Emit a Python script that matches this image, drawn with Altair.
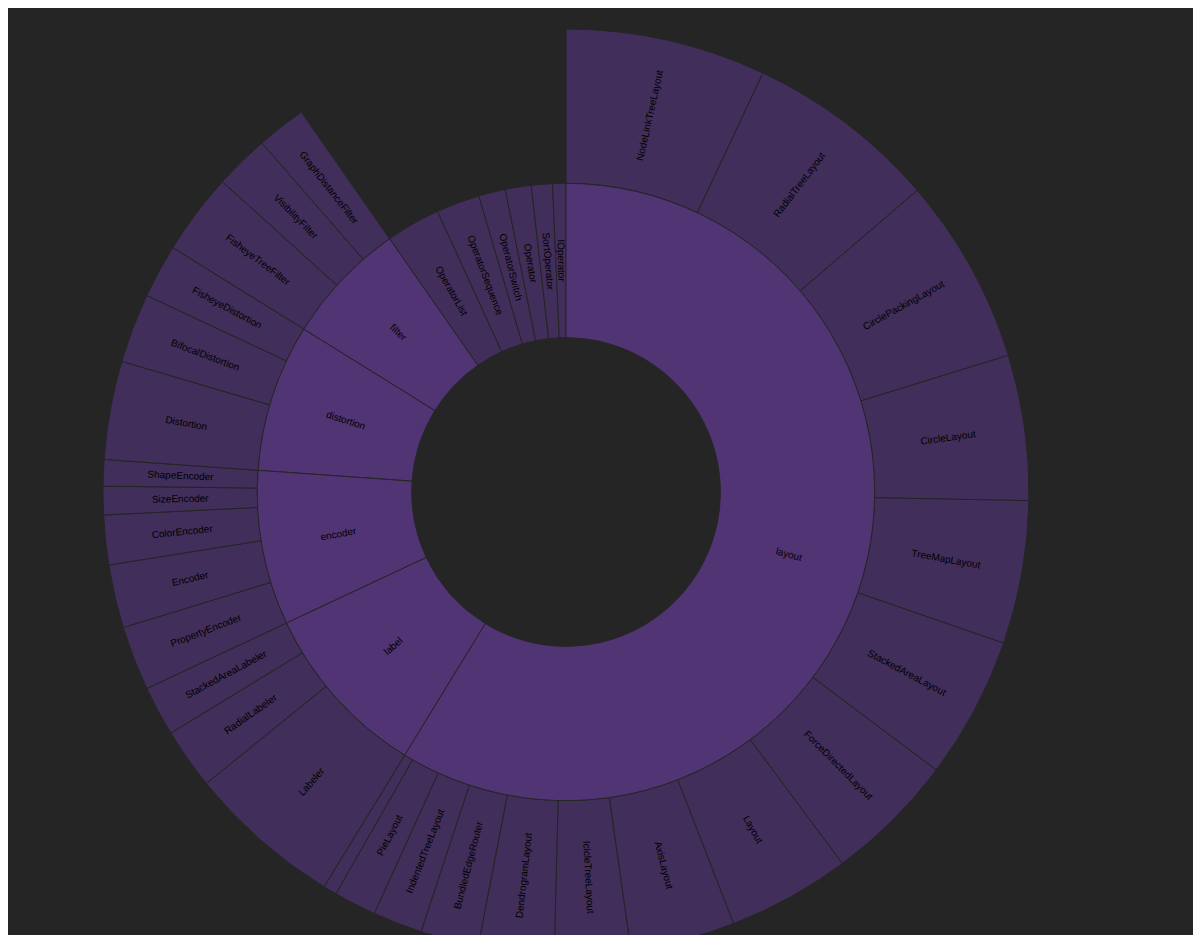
import math
import altair as alt
import pandas as pd

# ---------------- data (flare: vis.operator) ----------------
leaf_names = [
    "NodeLinkTreeLayout", "RadialTreeLayout", "CirclePackingLayout", "CircleLayout",
    "TreeMapLayout", "StackedAreaLayout", "ForceDirectedLayout", "Layout", "AxisLayout",
    "IcicleTreeLayout", "DendrogramLayout", "BundledEdgeRouter", "IndentedTreeLayout",
    "PieLayout", "RandomLayout",
    "Labeler", "RadialLabeler", "StackedAreaLabeler",
    "PropertyEncoder", "Encoder", "ColorEncoder", "SizeEncoder", "ShapeEncoder",
    "Distortion", "BifocalDistortion", "FisheyeDistortion",
    "FisheyeTreeFilter", "VisibilityFilter", "GraphDistanceFilter",
    "OperatorList", "OperatorSequence", "OperatorSwitch", "Operator", "SortOperator", "IOperator",
]
leaf_parents = (
    ["layout"] * 15
    + ["label"] * 3
    + ["encoder"] * 5
    + ["distortion"] * 3
    + ["filter"] * 3
    + [""] * 6
)
leaf_values = [
    12870, 12348, 12003, 9317, 9191, 9121, 8411, 7881, 6725, 4864, 4853, 3727, 3174, 2728, 870,
    9956, 3899, 3202,
    4138, 4060, 3179, 1830, 1690,
    6314, 4461, 3444,
    5219, 3509, 3165,
    5248, 4190, 2581, 2490, 2023, 1286,
]

BG = "#252525"
BRANCH = "#513474"
LEAF = "#422e5a"
W, H = 1185, 927          # fits inside the 8px page margin
CX, CY, R_OUT = 558, 484, 463

# ---------------- partition layout from the values ----------------
df = pd.DataFrame({"name": leaf_names, "parent": leaf_parents, "value": leaf_values})
df["group"] = df["parent"].where(df["parent"] != "", df["name"])
df["gtotal"] = df.groupby("group")["value"].transform("sum")
df = df.sort_values(["gtotal", "value"], ascending=[False, False]).reset_index(drop=True)
df["t1"] = df["value"].cumsum()
df["t0"] = df["t1"] - df["value"]
total = float(df["value"].sum())

rows = []
for _, r in df.iterrows():
    lvl = 2 if r["parent"] else 1
    rows.append(dict(name=r["name"], t0=float(r["t0"]), t1=float(r["t1"]), level=lvl, kind="leaf"))
br = df[df["parent"] != ""].groupby("parent").agg(t0=("t0", "min"), t1=("t1", "max")).reset_index()
for _, r in br.iterrows():
    rows.append(dict(name=r["parent"], t0=float(r["t0"]), t1=float(r["t1"]), level=1, kind="branch"))
arcs = pd.DataFrame(rows)

theta_scale = alt.Scale(domain=[0, total], range=[0, 2 * math.pi])
radius_scale = alt.Scale(type="linear", domain=[0, 3], range=[0, R_OUT], zero=True)

base = alt.Chart(arcs).transform_calculate(
    r0="datum.level", r1="datum.level + 1"
)

arc = base.mark_arc(stroke=BG, strokeWidth=1).encode(
    theta=alt.Theta("t0:Q", scale=theta_scale, stack=None),
    theta2="t1:Q",
    radius=alt.Radius("r0:Q", scale=radius_scale),
    radius2="r1:Q",
    fill=alt.Fill("kind:N", scale=alt.Scale(domain=["branch", "leaf"], range=[BRANCH, LEAF]), legend=None),
    x=alt.value(CX),
    y=alt.value(CY),
)

text = base.transform_filter(
    f"(datum.t1 - datum.t0) / {total} * 2 * PI > 0.03"
).transform_calculate(
    mid="(datum.t0 + datum.t1) / 2",
    deg=f"(datum.t0 + datum.t1) / 2 / {total} * 360",
    rm="datum.level + 0.5",
).transform_calculate(
    rot="((datum.deg < 180 ? datum.deg - 90 : datum.deg - 270) + 360) % 360"
).mark_text(
    font="Liberation Sans", fontSize=10, color="#000000", align="center", baseline="middle"
).encode(
    theta=alt.Theta("mid:Q", scale=theta_scale, stack=None),
    radius=alt.Radius("rm:Q", scale=radius_scale),
    text="name:N",
    angle=alt.Angle("rot:Q", scale=None),
    x=alt.value(CX),
    y=alt.value(CY),
)

chart = alt.layer(arc, text).properties(
    width=W,
    height=H,
    autosize=alt.AutoSizeParams(type="none"),
    padding=0,
    background=BG,
).configure_view(stroke=None)

chart.save("out.html", embed_options={"renderer": "svg", "actions": False})
